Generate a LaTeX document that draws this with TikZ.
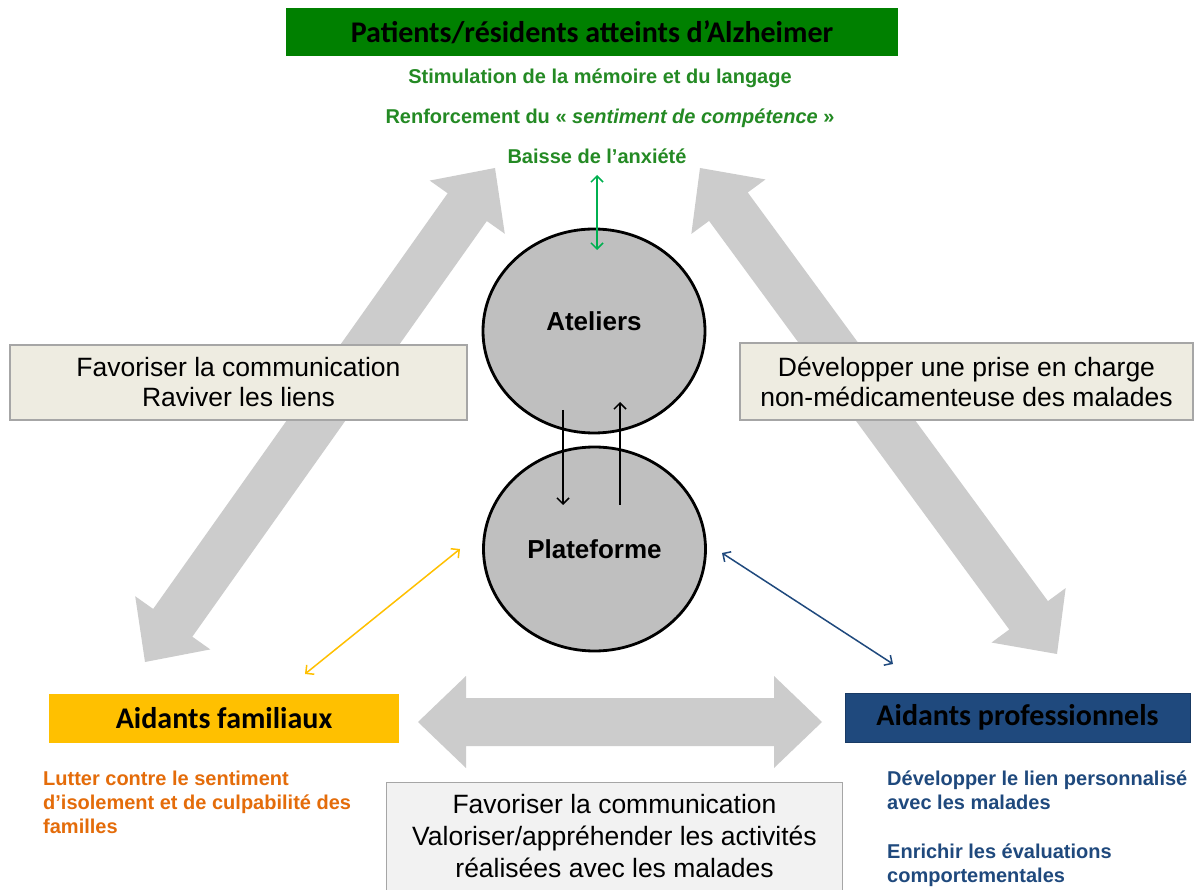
\documentclass[tikz,border=0pt]{standalone}
\usepackage{fontspec}
\setmainfont{Liberation Sans}
\newfontfamily\calfont{Carlito}
\usetikzlibrary{calc,arrows.meta,shapes.geometric}
\definecolor{hdrgreen}{RGB}{0,128,0}
\definecolor{txtgreen}{RGB}{36,138,36}
\definecolor{arrgreen}{RGB}{0,176,80}
\definecolor{beige}{RGB}{238,236,225}
\definecolor{boxline}{RGB}{166,166,166}
\definecolor{arrgray}{RGB}{204,204,204}
\definecolor{circfill}{RGB}{191,191,191}
\definecolor{famyellow}{RGB}{255,192,0}
\definecolor{famorange}{RGB}{228,108,10}
\definecolor{problue}{RGB}{31,73,125}
\definecolor{lightbox}{RGB}{242,242,242}
\newcommand\dblarr[2]{%
  \fill[arrgray] (#1)
   -- ($(#1)!48pt!(#2)!46pt!90:(#2)$) -- ($(#1)!48pt!(#2)!24pt!90:(#2)$)
   -- ($(#2)!48pt!(#1)!24pt!-90:(#1)$) -- ($(#2)!48pt!(#1)!46pt!-90:(#1)$)
   -- (#2)
   -- ($(#2)!48pt!(#1)!46pt!90:(#1)$) -- ($(#2)!48pt!(#1)!24pt!90:(#1)$)
   -- ($(#1)!48pt!(#2)!24pt!-90:(#2)$) -- ($(#1)!48pt!(#2)!46pt!-90:(#2)$)
   -- cycle;}
\tikzset{
  headbox/.style={inner sep=0pt, font=\calfont\bfseries\fontsize{30}{34}\selectfont},
  greentxt/.style={inner sep=0pt, text=txtgreen, font=\bfseries\fontsize{20}{24}\selectfont},
  graybox/.style={draw=boxline, line width=1.2pt, fill=beige, inner sep=0pt, align=center,
    font=\fontsize{26.5}{30}\selectfont},
  circ/.style={ellipse, draw=black, line width=2.8pt, fill=circfill, inner sep=0pt,
    minimum width=222pt, minimum height=204pt, font=\bfseries\fontsize{26}{30}\selectfont},
  sidetxt/.style={inner sep=0pt, align=left, anchor=north west,
    font=\bfseries\fontsize{20}{24}\selectfont},
  thinarr/.style={line width=1.5pt, {Straight Barb[length=6pt,width=12pt]}-{Straight Barb[length=6pt,width=12pt]}},
  onearr/.style={line width=1.5pt, -{Straight Barb[length=6pt,width=12pt]}}
}
\begin{document}
\begin{tikzpicture}[x=1pt,y=-1pt]
\useasboundingbox[fill=white] (0,0) rectangle (1195,890);
% big grey double arrows
\coordinate (l1) at (145,662); \coordinate (l2) at (495,168);
\coordinate (r1) at (700,168); \coordinate (r2) at (1057,654);
\coordinate (b1) at (418,722); \coordinate (b2) at (822,722);
\dblarr{l1}{l2}
\dblarr{r1}{r2}
\dblarr{b1}{b2}
% header
\node[headbox, fill=hdrgreen, minimum width=612pt, minimum height=48pt] (pat) at (592,32) {Patients/résidents atteints d’Alzheimer};
\node[greentxt] (g1) at (600,78) {Stimulation de la mémoire et du langage};
\node[greentxt] (g2) at (610,118) {Renforcement du «~\textit{sentiment de compétence}~»};
\node[greentxt] (g3) at (597,156) {Baisse de l’anxiété};
% side boxes
\node[graybox, minimum width=457pt, minimum height=75pt] (lb) at (238.5,382.5) {Favoriser la communication\\Raviver les liens};
\node[graybox, minimum width=453pt, minimum height=77pt] (rb) at (966.5,381.5) {Développer une prise en charge\\non-médicamenteuse des malades};
% bottom box (cut by the page edge)
\node[fill=lightbox, inner sep=0pt, align=center, minimum width=455pt, minimum height=107pt,
  font=\fontsize{26.5}{32}\selectfont] (bb) at (614.5,836.5) {Favoriser la communication\\Valoriser/appréhender les activités\\réalisées avec les malades};
\draw[boxline, line width=1.2pt] (bb.south west) -- (bb.north west) -- (bb.north east) -- (bb.south east);
% circles
\node[circ, text depth=20pt] (ate) at (594,331) {Ateliers};
\node[circ] (pla) at (594.5,549) {Plateforme};
% caregivers boxes
\node[headbox, fill=famyellow, minimum width=350pt, minimum height=49pt] (fam) at (224,718.5) {Aidants familiaux};
\node[headbox, fill=problue, draw=problue!80!black, line width=0.8pt, minimum width=345pt, minimum height=49pt] (pro) at (1017.5,717.5) {Aidants professionnels};
\node[sidetxt, text=famorange] (famtxt) at (43,771) {Lutter contre le sentiment\\d’isolement et de culpabilité des\\familles};
\node[sidetxt, text=problue] (protxt1) at (887,771) {Développer le lien personnalisé\\avec les malades};
\node[sidetxt, text=problue] (protxt2) at (887,844) {Enrichir les évaluations\\comportementales};
% thin arrows
\coordinate (ga) at (597,175); \coordinate (gb) at (597,250);
\draw[thinarr, arrgreen] (ga) -- (gb);
\coordinate (ya) at (305,674); \coordinate (yb) at (460,549);
\draw[thinarr, famyellow] (ya) -- (yb);
\coordinate (ba) at (722,553); \coordinate (bb2) at (893,664);
\draw[thinarr, problue] (ba) -- (bb2);
\coordinate (d1) at (563,410); \coordinate (d2) at (563,505);
\draw[onearr, black] (d1) -- (d2);
\coordinate (u1) at (620,505); \coordinate (u2) at (620,402);
\draw[onearr, black] (u1) -- (u2);
\end{tikzpicture}
\end{document}
